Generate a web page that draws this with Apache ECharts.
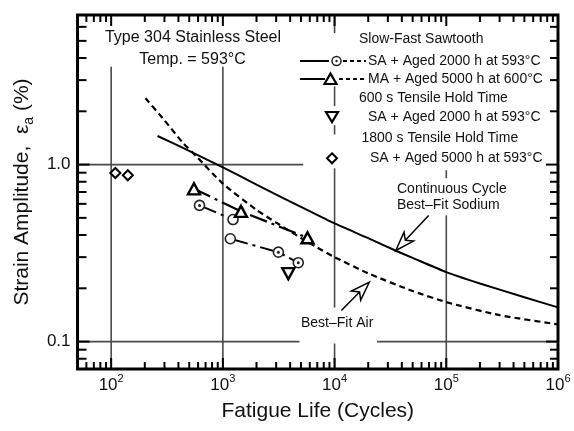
<!DOCTYPE html>
<html><head><meta charset="utf-8">
<script src="https://cdn.jsdelivr.net/npm/echarts@6/dist/echarts.min.js"></script>
<style>html,body{margin:0;padding:0;background:#fff}#c{width:574px;height:431px}</style>
</head><body><div id="c"></div>
<script>
// ---------- data ----------
const X_MIN = 50, X_MAX = 1e6, Y_MIN = 0.07, Y_MAX = 7;
const sodiumFit = [[260,1.45],[430,1.25],[1000,0.965],[2000,0.77],[5000,0.577],[10000,0.465],[20000,0.384],[35000,0.327],[50000,0.297],[100000,0.247],[200000,0.213],[500000,0.178],[1000000,0.156]];
const airFit = [[203,2.37],[300,1.78],[433,1.34],[590,1.10],[1000,0.78],[2000,0.555],[3000,0.47],[5000,0.385],[7000,0.34],[10000,0.30],[20000,0.243],[50000,0.193],[100000,0.167],[300000,0.141],[1000000,0.125]];
const sawSA_dotted = [[618,0.588],[3141,0.320],[4730,0.279]];
const sawSA_plain = [[1233,0.489],[1166,0.381]];
const sawSA_path1 = [[618,0.588],[1233,0.489]];
const sawSA_path2 = [[1166,0.381],[3141,0.320],[4730,0.279]];
const sawMA = [[551,0.73],[1452,0.544],[5720,0.386]];
const hold600 = [[3855,0.242]];
const hold1800 = [[109,0.896],[141,0.87]];
const xTickValues = [60,70,80,90,100,200,300,400,500,600,700,800,900,1000,2000,3000,4000,5000,6000,7000,8000,9000,10000,20000,30000,40000,50000,60000,70000,80000,90000,100000,200000,300000,400000,500000,600000,700000,800000,900000];
const yTickValues = [0.08,0.09,0.1,0.2,0.3,0.4,0.5,0.6,0.7,0.8,0.9,1,2,3,4,5,6];
const xLabelExponents = [2,3,4,5,6];
const yLabelValues = [0.1, 1];
const yLabelTexts = ['0.1', '1.0'];
// gridline segments (data coords): [x1,y1,x2,y2]
const gridSegments = [
  [100,Y_MIN,100,3.57],[1000,Y_MIN,1000,3.57],
  [1e4,5.53,1e4,Y_MAX],[1e4,2.14,1e4,2.77],[1e4,1.48,1e4,1.67],[1e4,0.1557,1e4,0.953],[1e4,Y_MIN,1e4,0.0975],
  [1e5,0.837,1e5,0.929],[1e5,Y_MIN,1e5,0.517],
  [X_MIN,1,5240,1],[X_MIN,0.1,4850,0.1],[23990,0.1,X_MAX,0.1]
];
// annotation arrows: [tailX, tailY, tipX, tipY]
const arrows = [[69500,0.516,35300,0.327],[11500,0.15,20500,0.217]];

// ---------- chart ----------
const FONT = '"Liberation Sans", Arial, sans-serif';
const INK = '#111';
const chart = echarts.init(document.getElementById('c'), null, {renderer:'canvas'});
function isPow10(v){ const l = Math.log10(v); return Math.abs(l - Math.round(l)) < 1e-6; }
const lineDashDot = [18,5,3,5];
function txt(text, x, y, size, align){
  return {type:'text', z:10, style:{text:text, x:x, y:y, font:size+'px '+FONT, fill:INK, align:align, verticalAlign:'middle', textAlign:align, textVerticalAlign:'middle'}};
}
const legendGraphics = [
  txt('Type 304 Stainless Steel', 193, 38, 16, 'center'),
  txt('Temp. = 593\u00b0C', 192.5, 60, 16, 'center'),
  txt('Slow-Fast Sawtooth', 359, 39.5, 14, 'left'),
  {type:'line', z:10, shape:{x1:300,y1:61,x2:329,y2:61}, style:{stroke:'#000', lineWidth:2}},
  {type:'circle', z:10, shape:{cx:336.5,cy:61,r:4.5}, style:{fill:'#fff', stroke:'#222', lineWidth:1.5}},
  {type:'circle', z:11, shape:{cx:336.5,cy:61,r:1.2}, style:{fill:'#222'}},
  {type:'line', z:10, shape:{x1:343,y1:61,x2:366,y2:61}, style:{stroke:'#000', lineWidth:2, lineDash:[4,3]}},
  txt('SA + Aged 2000 h at 593\u00b0C', 368, 61.5, 14, 'left'),
  {type:'line', z:10, shape:{x1:300,y1:79,x2:325,y2:79}, style:{stroke:'#000', lineWidth:2}},
  {type:'polygon', z:10, shape:{points:[[330.5,73.5],[336.5,84],[324.5,84]]}, style:{fill:'#fff', stroke:'#000', lineWidth:2.2}},
  {type:'line', z:10, shape:{x1:339,y1:79,x2:366,y2:79}, style:{stroke:'#000', lineWidth:2, lineDash:[4,3]}},
  txt('MA + Aged 5000 h at 600\u00b0C', 368, 79.5, 14, 'left'),
  txt('600 s Tensile Hold Time', 359, 98.5, 14, 'left'),
  {type:'polygon', z:10, shape:{points:[[326,112],[338,112],[332,122]]}, style:{fill:'#fff', stroke:'#000', lineWidth:2.2}},
  txt('SA + Aged 2000 h at 593\u00b0C', 368, 117, 14, 'left'),
  txt('1800 s Tensile Hold Time', 361.5, 138.5, 14, 'left'),
  {type:'polygon', z:10, shape:{points:[[332,153.3],[337,158.3],[332,163.3],[327,158.3]]}, style:{fill:'#fff', stroke:'#000', lineWidth:2}},
  txt('SA + Aged 5000 h at 593\u00b0C', 370, 158.5, 14, 'left'),
  txt('Continuous Cycle', 397, 189.5, 14, 'left'),
  txt('Best\u2013Fit Sodium', 397, 205.5, 14, 'left'),
  txt('Best\u2013Fit Air', 301, 323.5, 14, 'left')
];

const option = {
  animation: false,
  backgroundColor: '#fff',
  grid: {left:74, right:16, top:15, bottom:62, containLabel:false, show:true, borderColor:'#000', borderWidth:3, backgroundColor:'transparent'},
  xAxis: {
    type:'log', logBase:10, min:X_MIN, max:X_MAX,
    axisLine:{show:false}, axisTick:{show:false}, splitLine:{show:false}, minorTick:{show:false}, minorSplitLine:{show:false},
    axisLabel:{
      margin:4, color:INK, fontFamily:FONT,
      formatter: function(v){ if(!isPow10(v)) return ''; const e = Math.round(Math.log10(v)); return xLabelExponents.indexOf(e) >= 0 ? '{b|10}{s|' + e + '}' : ''; },
      rich:{ b:{fontSize:17, lineHeight:24, fontFamily:FONT, color:INK}, s:{fontSize:11, lineHeight:14, verticalAlign:'top', fontFamily:FONT, color:INK} }
    },
    name:'Fatigue Life (Cycles)', nameLocation:'middle', nameGap:32,
    nameTextStyle:{fontSize:21, color:INK, fontFamily:FONT}
  },
  yAxis: {
    type:'log', logBase:10, min:Y_MIN, max:Y_MAX,
    axisLine:{show:false}, axisTick:{show:false}, splitLine:{show:false}, minorTick:{show:false}, minorSplitLine:{show:false},
    axisLabel:{
      margin:7, color:INK, fontFamily:FONT, fontSize:17,
      formatter: function(v){ if(!isPow10(v)) return ''; for (let i=0;i<yLabelValues.length;i++){ if (Math.abs(Math.log10(v)-Math.log10(yLabelValues[i]))<1e-6) return yLabelTexts[i]; } return ''; }
    },
    name:'Strain Amplitude,  \u03b5{sub|a} (%)', nameLocation:'middle', nameGap:38, nameRotate:90,
    nameTextStyle:{fontSize:21, color:INK, fontFamily:FONT, lineHeight:28,
      rich:{ sub:{fontSize:14, lineHeight:14, verticalAlign:'bottom', fontFamily:FONT, color:INK} } }
  },
  series: [
    { type:'custom', z:1, silent:true, encode:{x:[0,2], y:[1,3]}, data:gridSegments,
      renderItem:function(params, api){
        const p1 = api.coord([api.value(0), api.value(1)]);
        const p2 = api.coord([api.value(2), api.value(3)]);
        return {type:'line', shape:{x1:p1[0],y1:p1[1],x2:p2[0],y2:p2[1]}, style:{stroke:'#4a4a4a', lineWidth:1.6}};
      } },
    { name:'Continuous Cycle Best-Fit Sodium', type:'line', z:3, data:sodiumFit, showSymbol:false, smooth:0.2,
      lineStyle:{color:'#000', width:2} },
    { name:'Best-Fit Air', type:'line', z:3, data:airFit, showSymbol:false, smooth:0.2,
      lineStyle:{color:'#000', width:2.2, type:[6,4]} },
    { type:'line', z:3, data:sawSA_path1, showSymbol:false, lineStyle:{color:'#000', width:2, type:lineDashDot} },
    { type:'line', z:3, data:sawSA_path2, showSymbol:false, lineStyle:{color:'#000', width:2, type:lineDashDot} },
    { type:'line', z:3, data:sawMA, showSymbol:false, lineStyle:{color:'#000', width:2.2, type:lineDashDot} },
    { type:'scatter', z:5, data:sawSA_plain, symbol:'circle', symbolSize:10,
      itemStyle:{color:'#fff', borderColor:'#222', borderWidth:1.6, opacity:1} },
    { type:'scatter', z:5, data:sawSA_dotted, symbol:'circle', symbolSize:10,
      itemStyle:{color:'#fff', borderColor:'#222', borderWidth:1.6, opacity:1} },
    { type:'scatter', z:6, data:sawSA_dotted, symbol:'circle', symbolSize:3,
      itemStyle:{color:'#222', opacity:1} },
    { type:'scatter', z:5, data:sawMA, symbol:'triangle', symbolSize:[12,11],
      itemStyle:{color:'#fff', borderColor:'#000', borderWidth:2.4, opacity:1} },
    { type:'scatter', z:5, data:hold600, symbol:'triangle', symbolRotate:180, symbolSize:[12,11],
      itemStyle:{color:'#fff', borderColor:'#000', borderWidth:2.4, opacity:1} },
    { type:'scatter', z:5, data:hold1800, symbol:'path://M0,-1L1,0L0,1L-1,0Z', symbolSize:[10,10],
      itemStyle:{color:'#fff', borderColor:'#000', borderWidth:2, opacity:1} },
    { type:'custom', z:7, silent:true, encode:{x:[0,2], y:[1,3]}, data:arrows,
      renderItem:function(params, api){
        const t = api.coord([api.value(0), api.value(1)]);
        const p = api.coord([api.value(2), api.value(3)]);
        let dx = p[0]-t[0], dy = p[1]-t[1]; const L0 = Math.hypot(dx,dy); dx/=L0; dy/=L0;
        const nx = -dy, ny = dx;
        const L = 19, W = 6.5, N = 5;
        const bx = p[0]-dx*L, by = p[1]-dy*L;
        const notch = [bx+dx*N, by+dy*N];
        return {type:'group', children:[
          {type:'line', shape:{x1:t[0],y1:t[1],x2:notch[0],y2:notch[1]}, style:{stroke:'#000', lineWidth:1.5}},
          {type:'polygon', shape:{points:[[p[0],p[1]],[bx+nx*W,by+ny*W],notch,[bx-nx*W,by-ny*W]]}, style:{fill:'#fff', stroke:'#000', lineWidth:1.5}}
        ]};
      } }
  ],
  graphic: legendGraphics
};
chart.setOption(option);

// inward axis ticks on all four sides, placed through the axis scales
const tickGraphics = [];
xTickValues.forEach(function(v){
  const len = isPow10(v) ? 11 : 7;
  const b = chart.convertToPixel({gridIndex:0}, [v, Y_MIN]);
  const t = chart.convertToPixel({gridIndex:0}, [v, Y_MAX]);
  tickGraphics.push({type:'line', z:9, silent:true, shape:{x1:b[0],y1:b[1],x2:b[0],y2:b[1]-len}, style:{stroke:'#000', lineWidth:2}});
  tickGraphics.push({type:'line', z:9, silent:true, shape:{x1:t[0],y1:t[1],x2:t[0],y2:t[1]+len}, style:{stroke:'#000', lineWidth:2}});
});
yTickValues.forEach(function(v){
  const major = isPow10(v);
  const l = chart.convertToPixel({gridIndex:0}, [X_MIN, v]);
  const r = chart.convertToPixel({gridIndex:0}, [X_MAX, v]);
  tickGraphics.push({type:'line', z:9, silent:true, shape:{x1:l[0],y1:l[1],x2:l[0]+(major?12:9),y2:l[1]}, style:{stroke:'#000', lineWidth:2}});
  tickGraphics.push({type:'line', z:9, silent:true, shape:{x1:r[0],y1:r[1],x2:r[0]-(major?12:8),y2:r[1]}, style:{stroke:'#000', lineWidth:2}});
});
chart.setOption({graphic: legendGraphics.concat(tickGraphics)});
</script>
</body></html>
